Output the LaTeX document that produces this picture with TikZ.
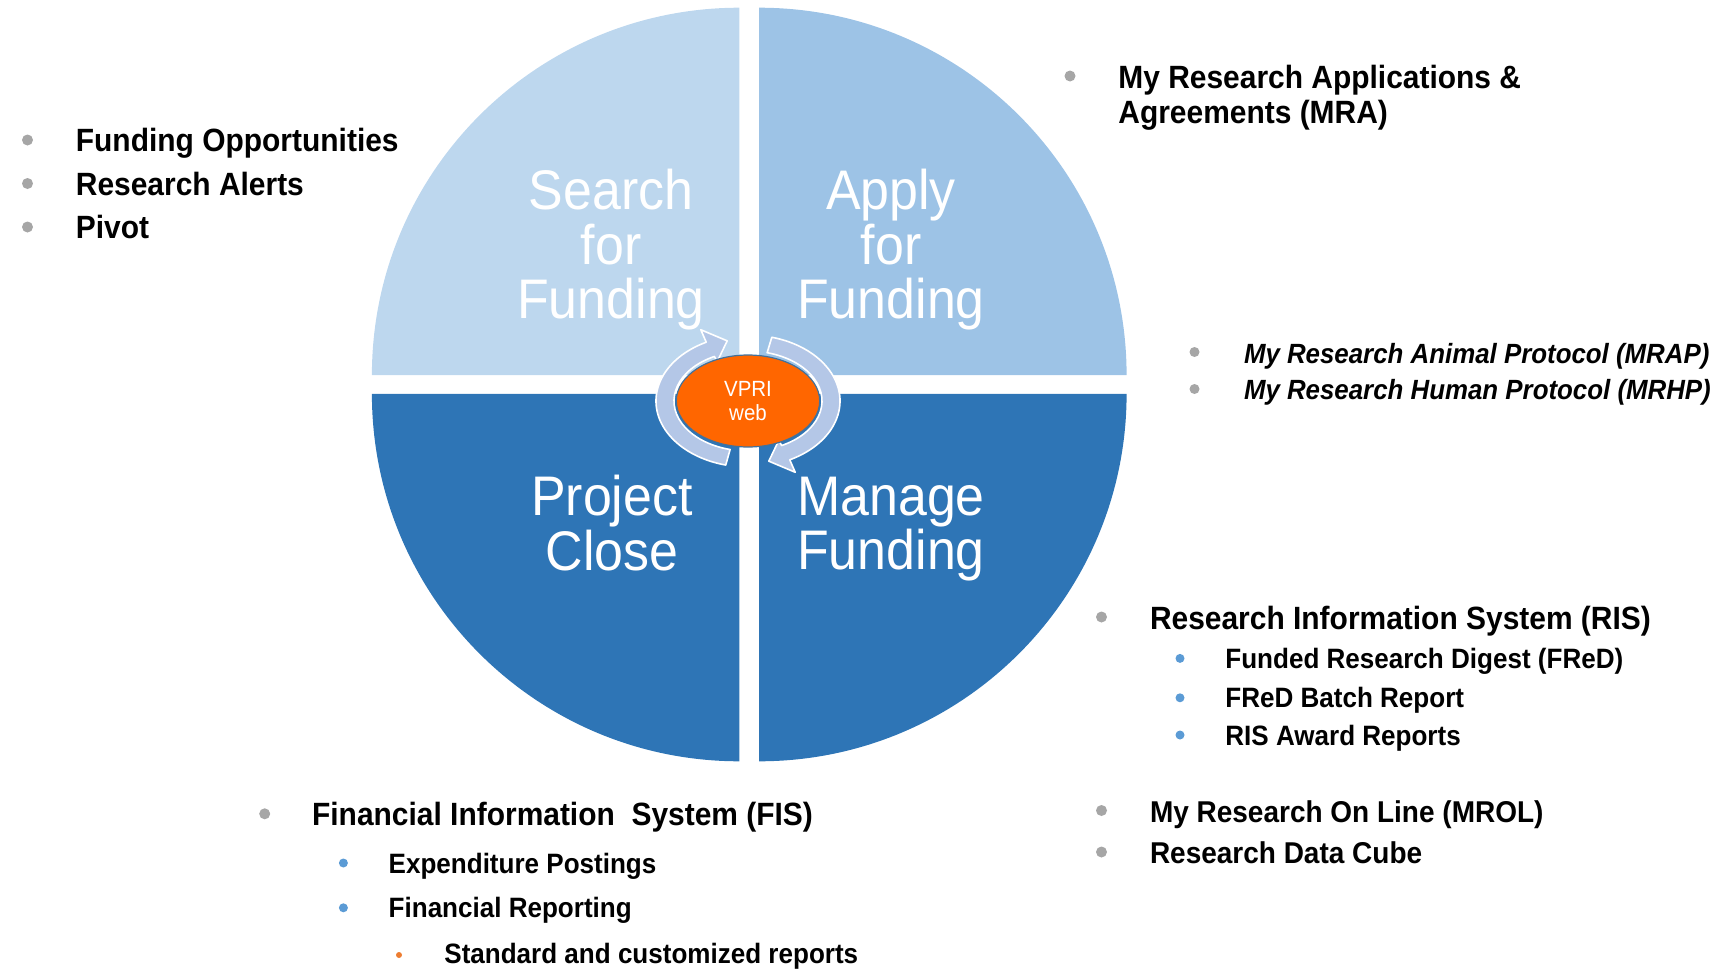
\documentclass[tikz,border=0pt]{standalone}
\usepackage{fontspec}
\setmainfont{Liberation Sans}[FakeStretch=0.93]
\usetikzlibrary{shapes.geometric}
\definecolor{qLight}{RGB}{189,215,238}
\definecolor{qMid}{RGB}{157,195,230}
\definecolor{qDark}{RGB}{46,117,182}
\definecolor{cycBlue}{RGB}{180,199,231}
\definecolor{hubOrange}{RGB}{255,102,0}
\definecolor{hubLine}{RGB}{65,113,156}
\definecolor{dotGray}{RGB}{166,166,166}
\definecolor{dotBlue}{RGB}{91,155,213}
\definecolor{dotOrange}{RGB}{237,125,49}

\begin{document}
\begin{tikzpicture}[x=0.5pt, y=0.5pt,
  quad/.style={text=white, font=\fontsize{27.9}{27.35}\selectfont, align=center},
  item/.style={anchor=west, inner sep=0pt, font=\bfseries\fontsize{16.1}{18}\selectfont,
    text height=11.53pt, text depth=0pt},
  subitem/.style={item, font=\bfseries\fontsize{14}{15}\selectfont, text height=10.02pt},
  miditem/.style={item, font=\bfseries\fontsize{15.05}{17}\selectfont, text height=10.78pt},
  cycarrow/.style={fill=cycBlue, draw=white, line width=0.8pt, line join=round},
]
  \useasboundingbox (0,0) rectangle (1715,-969);

  % four quarters
  \fill[qLight] (739.4,-375.2) -- ++(-367.5,0) arc[start angle=180, end angle=90, radius=367.5] -- cycle;
  \fill[qMid] (759.1,-375.2) -- ++(0,367.5) arc[start angle=90, end angle=0, radius=367.5] -- cycle;
  \fill[qDark] (739.4,-393.8) -- ++(-367.5,0) arc[start angle=180, end angle=270, radius=367.5] -- cycle;
  \fill[qDark] (759.1,-393.8) -- ++(367.5,0) arc[start angle=0, end angle=-90, radius=367.5] -- cycle;

  \node[quad] (search) at (611,-249.8) {Search\\for\\Funding};
  \node[quad] (apply) at (891,-249.8) {Apply\\for\\Funding};
  \node[quad] (close) at (612,-523.4) {Project\\Close};
  \node[quad] (manage) at (891,-529.1) {Manage\\Funding};

  % cycle in the middle
  \coordinate (hub) at (748,-401);
  \begin{scope}[shift={(hub)}]
    \filldraw[cycarrow] (256:92 and 66) arc[start angle=256, end angle=117, x radius=92, y radius=66]
      -- (117:104 and 80) -- (104:86 and 62) -- (117:68 and 44) -- (117:74 and 50)
      arc[start angle=117, end angle=256, x radius=74, y radius=50] -- cycle;
    \filldraw[cycarrow] (75:92 and 66) arc[start angle=75, end angle=-63, x radius=92, y radius=66]
      -- (-63:104 and 80) -- (-76:86 and 62) -- (-63:68 and 44) -- (-63:74 and 50)
      arc[start angle=-63, end angle=75, x radius=74, y radius=50] -- cycle;
  \end{scope}
  \node[ellipse, fill=hubOrange, draw=hubLine, line width=0.6pt, minimum width=71.7pt,
    minimum height=46pt, inner sep=0pt, text=white, align=center,
    font=\fontsize{11}{11.65}\selectfont] (vpri) at (hub) {VPRI\\web};

  % search
  \foreach \y in {140,183.5,227} \fill[dotGray] (27.5,-\y) circle[radius=5.5];
  \node[item] (opp) at (75.5,-140) {Funding Opportunities};
  \node[item] (alerts) at (75.5,-183.5) {Research Alerts};
  \node[item] (pivot) at (75.5,-227) {Pivot};

  % apply
  \fill[dotGray] (1070,-76) circle[radius=5.5];
  \node[anchor=west, inner sep=0pt, align=left, font=\bfseries\fontsize{16.1}{17.5}\selectfont]
    (mra) at (1118,-97.5) {My Research Applications \&\\Agreements (MRA)};
  \foreach \y in {352,389} \fill[dotGray] (1194.5,-\y) circle[radius=5];
  \node[subitem, font=\bfseries\itshape\fontsize{13.9}{15}\selectfont] (mrap) at (1243.6,-353) {My Research Animal Protocol (MRAP)};
  \node[subitem, font=\bfseries\itshape\fontsize{13.9}{15}\selectfont] (mrhp) at (1243.6,-389.5) {My Research Human Protocol (MRHP)};

  % manage
  \foreach \y in {617,810.5,852} \fill[dotGray] (1101.5,-\y) circle[radius=5.5];
  \node[item] (ris) at (1149.6,-618) {Research Information System (RIS)};
  \foreach \y in {658.4,697.8,735} \fill[dotBlue] (1180,-\y) circle[radius=4.5];
  \node[subitem] (fred) at (1225,-658.4) {Funded Research Digest (FReD)};
  \node[subitem] (batch) at (1225,-697.8) {FReD Batch Report};
  \node[subitem] (award) at (1225,-735) {RIS Award Reports};
  \node[miditem] (mrol) at (1149.6,-811.6) {My Research On Line (MROL)};
  \node[miditem] (cube) at (1149.6,-853) {Research Data Cube};

  % close
  \fill[dotGray] (264.7,-813.8) circle[radius=5.5];
  \node[item] (fis) at (311.7,-813.8) {Financial Information\ \ System (FIS)};
  \foreach \y in {863,907.8} \fill[dotBlue] (343.4,-\y) circle[radius=4.5];
  \node[subitem] (postings) at (388.3,-863) {Expenditure Postings};
  \node[subitem] (reporting) at (388.3,-907.8) {Financial Reporting};
  \fill[dotOrange] (399,-955) circle[radius=3];
  \node[subitem] (standard) at (444,-953) {Standard and customized reports};
\end{tikzpicture}
\end{document}
